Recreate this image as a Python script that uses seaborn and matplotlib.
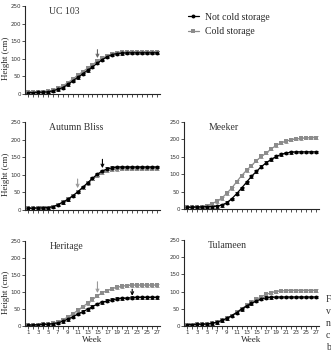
import matplotlib
matplotlib.use("Agg")
import matplotlib.pyplot as plt
from matplotlib.lines import Line2D
import seaborn as sns
import pandas as pd

# weeks after planting
weeks = list(range(1, 28))

# plant height (cm)
uc103_not = [4, 4, 5, 5, 6, 9, 13, 18, 27, 37, 47, 57, 67, 77, 88, 98, 106, 112, 115, 116, 117, 117, 117, 117, 117, 117, 117]
uc103_cold = [5, 5, 6, 7, 8, 11, 16, 23, 32, 42, 53, 63, 73, 83, 94, 102, 109, 114, 117, 118, 119, 119, 119, 119, 119, 119, 119]

bliss_not = [5, 5, 6, 6, 7, 9, 15, 22, 30, 40, 51, 64, 77, 90, 102, 111, 117, 120, 122, 122, 122, 122, 122, 122, 122, 122, 122]
bliss_cold = [5, 5, 6, 6, 7, 9, 15, 22, 30, 40, 51, 63, 76, 88, 98, 106, 111, 114, 116, 117, 117, 117, 117, 117, 117, 117, 117]

meeker_not = [5, 5, 6, 6, 7, 7, 8, 11, 18, 29, 44, 60, 77, 94, 108, 122, 133, 143, 151, 157, 161, 163, 164, 164, 164, 164, 164]
meeker_cold = [5, 5, 6, 7, 10, 15, 22, 31, 45, 60, 78, 96, 111, 125, 139, 151, 161, 173, 183, 190, 195, 199, 201, 203, 204, 205, 205]

heritage_not = [3, 3, 4, 5, 5, 7, 9, 14, 20, 27, 35, 42, 49, 57, 65, 70, 74, 77, 80, 81, 82, 83, 84, 84, 84, 84, 84]
heritage_cold = [3, 3, 4, 5, 6, 8, 12, 18, 26, 35, 46, 56, 67, 78, 89, 98, 104, 110, 114, 117, 119, 120, 120, 120, 120, 120, 120]

tulameen_not = [4, 4, 5, 5, 6, 8, 11, 16, 22, 30, 39, 49, 58, 66, 73, 79, 82, 83, 84, 84, 84, 84, 84, 84, 84, 84, 84]
tulameen_cold = [4, 4, 5, 5, 6, 8, 11, 16, 22, 30, 40, 50, 60, 69, 78, 85, 92, 97, 100, 102, 103, 103, 103, 103, 103, 103, 103]

# arrows: (week, tip height, tail height, colour)
uc103_arrows = [(15, 102, 126, "#666666")]
bliss_arrows = [(11, 62, 88, "#999999"), (16, 119, 144, "black")]
meeker_arrows = []
heritage_arrows = [(15, 97, 130, "#999999"), (22, 89, 108, "black")]
tulameen_arrows = []

labels = ["Not cold storage", "Cold storage"]
colors = {"Not cold storage": "black", "Cold storage": "#8c8c8c"}
markers = {"Not cold storage": "o", "Cold storage": "s"}
err = 4

W, H = 331, 350


def rect(left, right, top, bottom):
    return [left / W, 1 - bottom / H, (right - left) / W, (bottom - top) / H]


sns.set_style("ticks")
fig = plt.figure(figsize=(W / 100, H / 100), dpi=100)
serif = "Liberation Serif"

panels = [
    ("UC 103", uc103_not, uc103_cold, uc103_arrows, rect(25, 160, 6, 94), True, False),
    ("Autumn Bliss", bliss_not, bliss_cold, bliss_arrows, rect(25, 160, 122, 210), True, False),
    ("Meeker", meeker_not, meeker_cold, meeker_arrows, rect(184, 319, 122, 209), False, False),
    ("Heritage", heritage_not, heritage_cold, heritage_arrows, rect(25, 160, 241, 326), True, True),
    ("Tulameen", tulameen_not, tulameen_cold, tulameen_arrows, rect(184, 319, 240, 326), False, True),
]

for name, not_cold, cold, arrows, pos, ylab, xlab in panels:
    ax = fig.add_axes(pos)
    df = pd.DataFrame({
        "Week": weeks * 2,
        "Height": not_cold + cold,
        "Treatment": [labels[0]] * len(weeks) + [labels[1]] * len(weeks),
    })
    for lab in labels[::-1]:
        sub = df[df["Treatment"] == lab]
        ax.errorbar(sub["Week"], sub["Height"], yerr=err, fmt="none",
                    ecolor=colors[lab], elinewidth=0.6, capsize=1.3, capthick=0.6, zorder=1)
    sns.lineplot(data=df, x="Week", y="Height", hue="Treatment", style="Treatment",
                 hue_order=labels[::-1], style_order=labels[::-1],
                 palette=colors, markers=markers, dashes=False,
                 markersize=2.8, markeredgewidth=0, linewidth=0.9,
                 legend=False, ax=ax, zorder=2)
    for wk, tip, tail, col in arrows:
        ax.annotate("", xy=(wk, tip), xytext=(wk, tail),
                    arrowprops=dict(arrowstyle="->", color=col, lw=0.8,
                                    shrinkA=0, shrinkB=0, mutation_scale=5))
    ax.set_xlim(0.4, 27.6)
    ax.set_ylim(0, 250)
    ax.set_yticks([0, 50, 100, 150, 200, 250])
    ax.set_xticks(weeks)
    if xlab:
        ax.set_xticklabels([str(w) if w % 2 == 1 else "" for w in weeks])
        ax.set_xlabel("Week", fontsize=6.5, family=serif, labelpad=0.5)
    else:
        ax.set_xticklabels([])
        ax.set_xlabel("")
    if ylab:
        ax.set_ylabel("Height (cm)", fontsize=6.5, family=serif)
        ax.yaxis.set_label_coords(-0.11, 0.4)
    else:
        ax.set_ylabel("")
    ax.tick_params(axis="both", length=2, width=0.6, pad=1, labelsize=4, colors="#333333")
    for s in ["left", "bottom"]:
        ax.spines[s].set_linewidth(0.8)
    sns.despine(ax=ax)
    ax.text(0.18, 0.99, name, transform=ax.transAxes, fontsize=7, family=serif,
            color="#333333", va="top", ha="left")

handles = [Line2D([0], [0], color=colors[l], marker=markers[l], markersize=2.8,
                  markeredgewidth=0, linewidth=0.9) for l in labels]
fig.legend(handles, labels, loc="upper left", bbox_to_anchor=(183 / W, 1 - 8 / H),
           frameon=False, prop={"family": serif, "size": 7}, handlelength=1.1,
           handletextpad=0.7, labelspacing=0.55, borderpad=0)

# cut-off caption on the right edge
for ch, y in zip(["F", "v", "n", "c", "b"], [300, 312, 324, 336, 347]):
    fig.text(326 / W, 1 - y / H, ch, fontsize=7, family=serif, color="#333333",
             va="center", ha="left")

fig.savefig("out.png", dpi=100)
